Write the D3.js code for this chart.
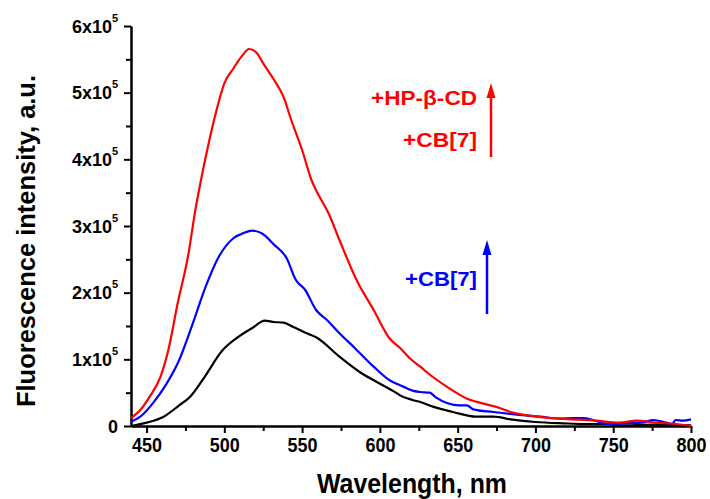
<!DOCTYPE html>
<html>
<head>
<meta charset="utf-8">
<script src="https://cdn.jsdelivr.net/npm/d3@7"></script>
<style>
  body { margin: 0; background: #fff; }
  svg { font-family: "Liberation Sans", Arial, sans-serif; font-weight: bold; }
</style>
</head>
<body>
<div id="chart"></div>
<script>
// values, intensity in units of 1e5
const redWl = [440, 446, 452, 459, 464, 470, 477, 481, 485, 489, 495, 500, 506, 511, 516, 521, 525, 532, 538, 543, 550, 556, 560, 567, 574, 585, 596, 606, 613, 619, 626, 630, 643, 656, 666, 677, 684, 692, 705, 716, 724, 739, 754, 765, 777, 790, 800]
const redVal = [0.12, 0.24, 0.44, 0.74, 1.14, 1.84, 2.59, 3.19, 3.69, 4.14, 4.74, 5.14, 5.37, 5.54, 5.655, 5.59, 5.44, 5.19, 4.94, 4.59, 4.14, 3.69, 3.49, 3.19, 2.79, 2.19, 1.74, 1.32, 1.17, 1.02, 0.89, 0.81, 0.59, 0.41, 0.34, 0.27, 0.21, 0.17, 0.13, 0.11, 0.10, 0.08, 0.05, 0.08, 0.05, 0.03, 0.0]

const blueWl = [440, 446, 454, 463, 471, 479, 488, 496, 506, 512, 518, 524, 532, 540, 546, 552, 559, 566, 574, 583, 596, 606, 613, 617, 621, 626, 632, 636, 651, 656, 660, 673, 688, 703, 716, 724, 731, 737, 746, 755, 768, 776, 784, 788, 790, 795, 800]
const blueVal = [0.065, 0.14, 0.34, 0.64, 0.99, 1.49, 2.09, 2.52, 2.82, 2.89, 2.93, 2.89, 2.72, 2.52, 2.19, 2.04, 1.74, 1.59, 1.39, 1.19, 0.89, 0.69, 0.61, 0.57, 0.53, 0.51, 0.50, 0.43, 0.31, 0.31, 0.25, 0.21, 0.17, 0.14, 0.11, 0.12, 0.12, 0.09, 0.03, 0.04, 0.05, 0.09, 0.05, 0.03, 0.09, 0.08, 0.10]

const blackWl = [440, 450, 461, 471, 478, 486, 499, 508, 518, 526, 532, 538, 544, 553, 559, 574, 587, 598, 611, 613, 621, 626, 634, 647, 662, 673, 684, 700, 718, 733, 746, 754, 776, 800]
const blackVal = [0.0, 0.05, 0.14, 0.31, 0.44, 0.69, 1.14, 1.32, 1.47, 1.58, 1.56, 1.55, 1.49, 1.39, 1.33, 1.04, 0.81, 0.66, 0.49, 0.46, 0.39, 0.36, 0.29, 0.21, 0.14, 0.14, 0.10, 0.06, 0.04, 0.03, 0.03, 0.01, 0.02, 0.01]

const xTicks = [450, 500, 550, 600, 650, 700, 750, 800]
const xMinor = [475, 525, 575, 625, 675, 725, 775]
const yTicks = [0, 1, 2, 3, 4, 5, 6]
const yMinor = [0.5, 1.5, 2.5, 3.5, 4.5, 5.5]

const width = 710
const height = 499

const svg = d3.select("#chart")
  .append("svg")
  .attr("width", width)
  .attr("height", height)

const x = d3.scaleLinear().domain([440, 800]).range([131, 691])
const y = d3.scaleLinear().domain([0, 6]).range([426, 26])

// minor ticks
svg.append("g")
  .attr("transform", `translate(0, ${y(0)})`)
  .call(d3.axisBottom(x).tickValues(xMinor).tickSize(5).tickSizeOuter(0).tickFormat(""))
svg.append("g")
  .attr("transform", `translate(${x(440)}, 0)`)
  .call(d3.axisLeft(y).tickValues(yMinor).tickSize(5).tickSizeOuter(0).tickFormat(""))

// axis bottom
const gx = svg.append("g")
  .attr("transform", `translate(0, ${y(0)})`)
  .call(d3.axisBottom(x).tickValues(xTicks).tickSize(7).tickSizeOuter(0).tickPadding(5))
gx.selectAll("text")
  .attr("font-size", 20)
  .attr("font-family", "Liberation Sans, Arial, sans-serif")
  .attr("font-weight", "bold")
  .attr("fill", "#000")
  .attr("dy", "0.72em")
  .attr("textLength", 30)
  .attr("lengthAdjust", "spacingAndGlyphs")

// left axis
const gy = svg.append("g")
  .attr("transform", `translate(${x(440)}, 0)`)
  .call(d3.axisLeft(y).tickValues(yTicks).tickSize(7).tickSizeOuter(0).tickFormat(""))
gy.selectAll(".tick").each(function(d) {
  d3.select(this).append("text")
    .attr("x", d === 0 ? -13 : -19)
    .attr("dy", "0.34em")
    .attr("text-anchor", "end")
    .attr("fill", "#000")
    .attr("font-size", 18)
    .attr("font-family", "Liberation Sans, Arial, sans-serif")
    .attr("font-weight", "bold")
    .text(d === 0 ? "0" : `${d}x10`)
  if (d !== 0) {
    d3.select(this).append("text")
      .attr("x", -13)
      .attr("y", -5)
      .attr("text-anchor", "end")
      .attr("fill", "#000")
      .attr("font-size", 11)
      .attr("font-weight", "bold")
      .text("5")
  }
})

svg.selectAll(".domain, .tick line").attr("stroke", "#000").attr("stroke-width", 2)

// axis titles
svg.append("text")
  .attr("x", 412)
  .attr("y", 493)
  .attr("text-anchor", "middle")
  .attr("font-size", 27)
  .attr("textLength", 190)
  .attr("lengthAdjust", "spacingAndGlyphs")
  .text("Wavelength, nm")

svg.append("text")
  .attr("transform", "translate(35, 241) rotate(-90)")
  .attr("text-anchor", "middle")
  .attr("font-size", 25)
  .attr("textLength", 332)
  .attr("lengthAdjust", "spacingAndGlyphs")
  .text("Fluorescence intensity, a.u.")

// spectra
const line = d3.line()
  .curve(d3.curveMonotoneX)
  .x(d => x(d[0]))
  .y(d => y(d[1]))

const series = [
  {wl: blackWl, val: blackVal, color: "#000000"},
  {wl: blueWl, val: blueVal, color: "#0000ff"},
  {wl: redWl, val: redVal, color: "#ff0000"}
]

series.forEach(s => {
  svg.append("path")
    .datum(d3.zip(s.wl, s.val))
    .attr("fill", "none")
    .attr("stroke", s.color)
    .attr("stroke-width", 2.2)
    .attr("stroke-linejoin", "round")
    .attr("d", line)
})

// annotations
const note = (txt, xe, yb, len, color) => {
  svg.append("text")
    .attr("x", xe)
    .attr("y", yb)
    .attr("text-anchor", "end")
    .attr("fill", color)
    .attr("font-size", 21)
    .attr("textLength", len)
    .attr("lengthAdjust", "spacingAndGlyphs")
    .text(txt)
}
const arrow = (xa, y0, y1, color) => {
  svg.append("line")
    .attr("x1", xa).attr("x2", xa)
    .attr("y1", y0).attr("y2", y1 + 10)
    .attr("stroke", color)
    .attr("stroke-width", 2.5)
  svg.append("path")
    .attr("d", `M${xa},${y1} L${xa - 4.5},${y1 + 15} L${xa + 4.5},${y1 + 15} Z`)
    .attr("fill", color)
}

note("+HP-\u03b2-CD", 477, 105, 106, "#ff0000")
note("+CB[7]", 477, 147, 74, "#ff0000")
arrow(491, 157, 83, "#ff0000")

note("+CB[7]", 477, 286, 72, "#0000ff")
arrow(487, 314, 240, "#0000ff")
</script>
</body>
</html>
